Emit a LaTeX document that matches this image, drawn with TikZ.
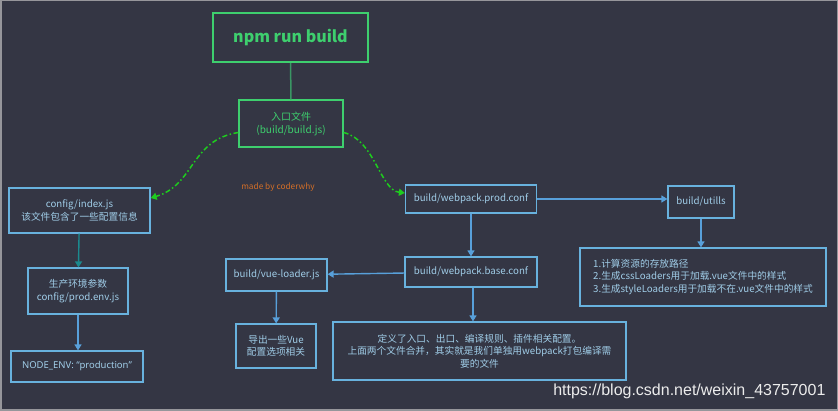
\documentclass[tikz,border=0pt]{standalone}
\usepackage{fontspec}
\setmainfont{Noto Sans CJK SC}
\newfontfamily\urlfont{Liberation Sans}
\newfontfamily\latinfont{Noto Sans}
\usetikzlibrary{arrows.meta}
\definecolor{bgdark}{RGB}{52,54,68}
\definecolor{frame}{RGB}{150,150,155}
\definecolor{npmgreen}{RGB}{62,207,110}
\definecolor{linkgreen}{RGB}{58,150,100}
\definecolor{dashgreen}{RGB}{30,205,30}
\definecolor{boxblue}{RGB}{104,178,222}
\definecolor{textblue}{RGB}{160,205,232}
\definecolor{arrowblue}{RGB}{88,160,218}
\definecolor{tealarrow}{RGB}{27,138,143}
\definecolor{signorange}{RGB}{210,110,40}
\begin{document}
\begin{tikzpicture}[x=1pt,y=-1pt,
    bluebox/.style={draw=boxblue, line width=1.2pt, text=textblue, font=\fontsize{9.7}{12.5}\selectfont, align=center, inner sep=0pt},
    greenbox/.style={draw=npmgreen, line width=1.2pt, text=npmgreen, font=\fontsize{10}{13}\selectfont, align=center, inner sep=0pt},
    flow/.style={draw=arrowblue, line width=1.4pt, -{Triangle[length=6pt,width=7pt]}},
    dashflow/.style={draw=dashgreen, line width=1.5pt, dash pattern=on 5pt off 2.5pt on 1.5pt off 2.5pt, -{Triangle[length=6pt,width=7pt]}}]
\draw[fill=bgdark, draw=frame, line width=1.5pt] (0.75,0.75) rectangle (837.25,410.25);
\useasboundingbox (0,0) rectangle (838,411);
% top
\node[greenbox, line width=2.5pt, minimum width=155pt, minimum height=49pt, font=\fontsize{16}{18}\selectfont\bfseries] (npm) at (290.5,37.5) {npm run build};
\node[greenbox, minimum width=104pt, minimum height=47pt] (entry) at (291,123.5) {入口文件\\(build/build.js)};
\draw[linkgreen, line width=1.5pt] (npm) -- (entry);
\node[text=signorange, font=\fontsize{8.3}{9}\selectfont] (sign) at (278,187) {made by coderwhy};
% left column
\node[bluebox, minimum width=141pt, minimum height=45pt] (config) at (79.5,210.5) {config/index.js\\该文件包含了一些配置信息};
\node[bluebox, minimum width=100pt, minimum height=46pt] (prodenv) at (78,291) {生产环境参数\\config/prod.env.js};
\node[bluebox, minimum width=132pt, minimum height=31pt, font=\latinfont\fontsize{9.5}{12}\selectfont] (nodeenv) at (77,366.5) {NODE\_ENV: “production”};
% middle and right
\node[bluebox, minimum width=131pt, minimum height=28pt] (prodconf) at (471,199) {build/webpack.prod.conf};
\node[bluebox, minimum width=66pt, minimum height=32pt] (utils) at (701,202) {build/utills};
\node[bluebox, minimum width=246pt, minimum height=58pt, align=left] (utilsdesc) at (703,277) {1.计算资源的存放路径\\2.生成cssLoaders用于加载.vue文件中的样式\\3.生成styleLoaders用于加载不在.vue文件中的样式};
\node[bluebox, minimum width=132pt, minimum height=30pt] (baseconf) at (471,272) {build/webpack.base.conf};
\node[bluebox, minimum width=101pt, minimum height=32pt] (vueloader) at (276.5,275) {build/vue-loader.js};
\node[bluebox, minimum width=80pt, minimum height=44pt] (vueopts) at (276,346) {导出一些Vue\\配置选项相关};
\node[bluebox, minimum width=293pt, minimum height=58pt] (basedesc) at (479.5,351) {定义了入口、出口、编译规则、插件相关配置。\\上面两个文件合并，其实就是我们单独用webpack打包编译需\\要的文件};
% connectors
\draw[dashflow] (entry.west) ++(0,9) .. controls (190,140) and (195,185) .. (config.north east |- 0,198);
\draw[dashflow] (entry.east) ++(0,9) .. controls (375,140) and (380,190) .. (prodconf.west |- 0,193);
\draw[flow, draw=tealarrow] (config) -- (prodenv);
\draw[flow] (prodenv.south) -- (prodenv.south |- nodeenv.north);
\draw[flow] (prodconf.east) -- (utils.west |- prodconf.east);
\draw[flow] (prodconf) -- (baseconf);
\draw[flow] (utils.south) -- (utils.south |- utilsdesc.north);
\draw[flow] (baseconf) -- (vueloader);
\draw[flow] (vueloader) -- (vueopts);
\coordinate (basefoot) at ([xshift=2pt]baseconf.south);
\draw[flow] (basefoot) -- (basefoot |- basedesc.north);
\node[text=white!85!gray, font=\urlfont\fontsize{16}{18}\selectfont, anchor=east] (url) at (829,391) {https://blog.csdn.net/weixin\_43757001};
\end{tikzpicture}
\end{document}
